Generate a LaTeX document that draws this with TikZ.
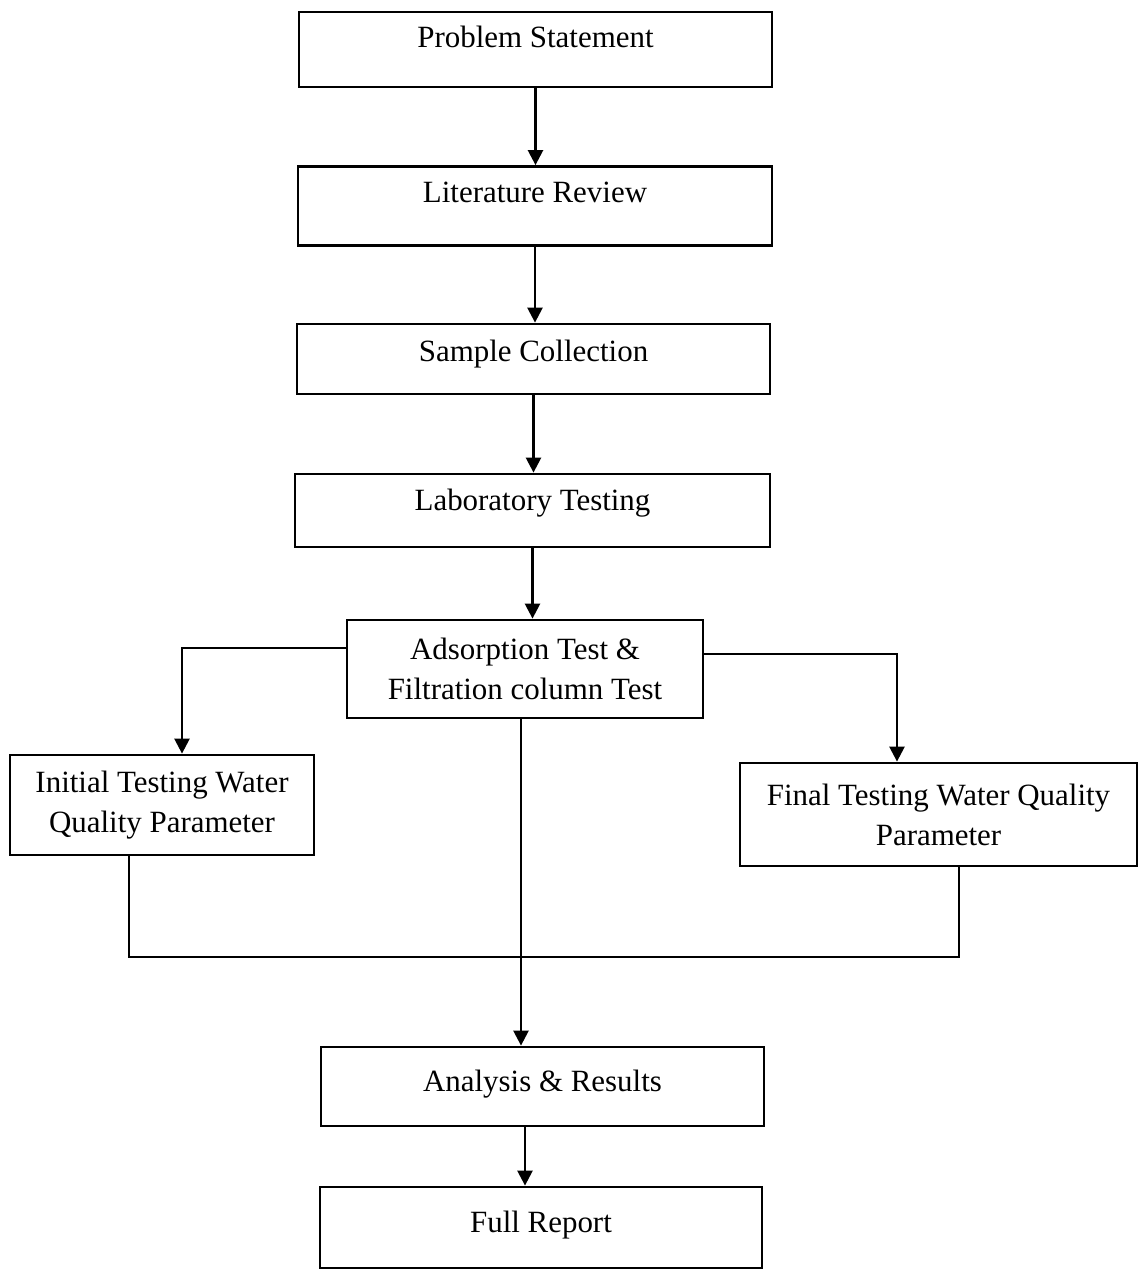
\documentclass[tikz,border=0pt]{standalone}
\usepackage{fontspec}
\setmainfont{Liberation Serif}
\usepackage{tikz}
\usetikzlibrary{positioning, shapes, arrows.meta}

\begin{document}
\begin{tikzpicture}[
    stage/.style={draw, rectangle, line width=0.8pt, inner sep=0pt, align=center,
                  font=\fontsize{8.8pt}{11.4pt}\selectfont},
    flow/.style={-{Triangle[width=1.5mm, length=1.5mm]}, line width=0.7pt},
    link/.style={line width=0.7pt}
  ]
    \useasboundingbox (0,0) rectangle (11.38,-12.72);

    % Main stages
    \node[stage, minimum width=4.73cm, text height=0.35cm, text depth=0.40cm] (prob) at (5.355,-0.495) {Problem Statement};
    \node[stage, minimum width=4.74cm, text height=0.36cm, text depth=0.43cm] (lit) at (5.35,-2.06) {Literature Review};
    \node[stage, minimum width=4.73cm, text height=0.37cm, text depth=0.33cm] (samp) at (5.335,-3.59) {Sample Collection};
    \node[stage, minimum width=4.75cm, text height=0.36cm, text depth=0.37cm] (lab) at (5.325,-5.105) {Laboratory Testing};
    \node[stage, minimum width=3.56cm, minimum height=0.98cm] (ads) at (5.25,-6.69) {Adsorption Test \&\\ Filtration column Test};

    % Side tests
    \node[stage, minimum width=3.04cm, minimum height=1.00cm] (init) at (1.62,-8.05) {Initial Testing Water\\ Quality Parameter};
    \node[stage, minimum width=3.97cm, minimum height=1.03cm] (fin) at (9.385,-8.145) {Final Testing Water Quality\\ Parameter};

    % End stages
    \node[stage, minimum width=4.43cm, text height=0.44cm, text depth=0.35cm] (ana) at (5.425,-10.865) {Analysis \& Results};
    \node[stage, minimum width=4.42cm, text height=0.45cm, text depth=0.36cm] (rep) at (5.41,-12.275) {Full Report};

    % Arrows down the middle
    \draw[flow] (prob.south) -- (prob.south |- lit.north);
    \draw[flow] (lit.south) -- (lit.south |- samp.north);
    \draw[flow] (samp.south) -- (samp.south |- lab.north);
    \draw[flow] (lab.south) -- (lab.south |- ads.north);
    \draw[flow] ([xshift=-0.4mm]ads.south) -- ([xshift=-0.4mm]ads.south |- ana.north);
    \draw[flow] ([xshift=-1.75mm]ana.south) -- ([xshift=-1.75mm]ana.south |- rep.north);

    % Branches to the side tests
    \draw[flow] ([yshift=2.1mm]ads.west) -| ([xshift=2mm]init.north);
    \draw[flow] ([yshift=1.5mm]ads.east) -| ([xshift=-4.15mm]fin.north);

    % Line joining the side tests
    \coordinate (join) at (5.21,-9.57);
    \draw[link] ([xshift=-3.3mm]init.south) |- (join) -| ([xshift=2.05mm]fin.south);
  \end{tikzpicture}
\end{document}
